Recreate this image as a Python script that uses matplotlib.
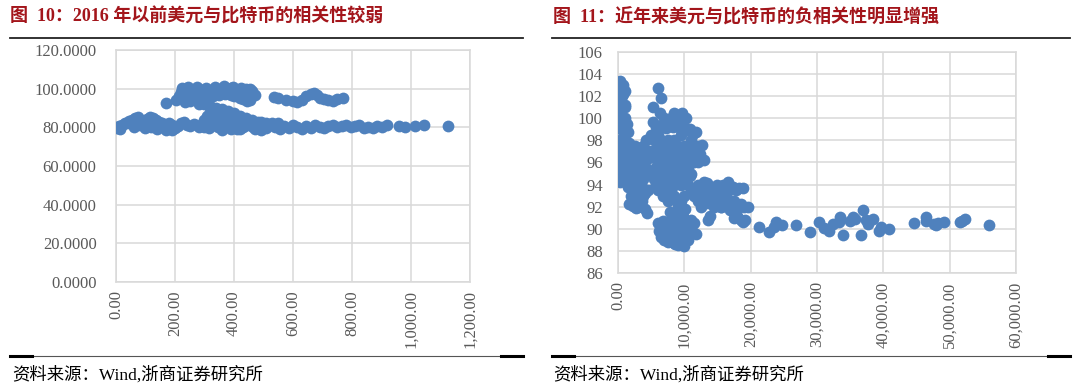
import matplotlib.pyplot as plt
from matplotlib.lines import Line2D
from matplotlib.ticker import FuncFormatter

# ---- left chart: before 2016 (BTC price vs USD index) ----
left_x = [5, 10, 15, 22, 30, 38, 45, 55, 65, 75, 85, 95, 105, 115, 125, 135, 145, 155,
          160, 170, 180, 190, 200, 210, 220, 230, 240, 250, 265, 280, 290,
          60, 80, 100, 120, 140, 170, 190, 130, 110,
          170, 205, 215, 220, 230, 240, 250, 260, 270, 280, 290, 300, 310, 320, 330, 340,
          350, 360, 370, 380, 390, 400, 410, 420, 430, 440, 450, 460, 470, 455, 445, 430,
          420, 400, 390, 235, 250, 265, 280, 295, 310, 330, 350, 370, 460, 440, 290,
          300, 320, 340, 360, 380, 400, 420, 440, 460, 480, 320, 340, 360, 380, 400, 420,
          440, 310, 300, 300, 330, 350, 370, 390, 410, 430, 450,
          300, 315, 330, 345, 360, 375, 390, 405, 420, 435, 450, 465, 480, 495, 510, 525,
          540, 555, 570, 585, 600, 615, 630, 645, 660, 675, 690, 705, 720, 735, 750, 765,
          780, 795, 810, 825, 840, 855, 870, 885, 900, 918, 960, 980, 1015, 1045, 1125,
          410, 430, 450, 470, 490, 510, 530, 550, 470, 490,
          535, 550, 575, 600, 615, 630, 645, 660, 670, 680, 690, 705, 720, 735, 750, 768,
          225, 245, 275, 305, 335, 365, 395, 425, 455, 260, 300, 340, 380, 420]
left_y = [79.5, 80.5, 79, 81, 82, 82.5, 83.5, 84, 85, 85.5, 84, 83, 84.5, 85.5, 85, 84, 83, 82,
          80, 81, 82.5, 81, 79.5, 80.5, 82, 83, 81, 80.5, 81.5, 80, 81.5,
          80, 81, 79.5, 80, 79, 78.5, 78.5, 81, 81.5,
          92.5, 94, 96, 98.5, 99.5, 98, 99, 97, 98.5, 100, 99, 98, 99.5, 97, 98.5, 100,
          99, 98, 100, 99, 100.5, 98.5, 97.5, 99, 97, 98, 96, 97.5, 96.5, 94, 93.5, 94.5,
          95, 96, 96.5, 93, 93.5, 94.5, 92, 93.5, 95, 96, 96.5, 97, 99, 100, 96,
          92, 91, 90, 89.5, 88.5, 87.5, 86, 85, 84, 83, 88, 87, 86, 85, 84, 83,
          82, 86, 84, 81, 82, 83, 81, 80, 79, 80, 81,
          80, 79.5, 81, 80, 78.5, 80.5, 79, 81, 79, 80.5, 82, 80, 81.5, 80, 79.5, 81,
          80, 79, 80.5, 79.5, 81, 80, 79, 80.5, 79.5, 81, 80, 79.5, 80.5, 81, 80, 80.5,
          81, 80, 80.5, 81, 79.5, 80, 79.5, 80.5, 80, 81, 80.5, 80, 80.5, 81, 80.5,
          83, 84, 83, 82.5, 83, 82, 82.5, 82, 79, 78.5,
          95.7, 95, 94, 93.5, 93, 94, 96, 97.5, 98, 96.5, 95, 94.5, 94, 93.5, 94.5, 95,
          100.3, 100.8, 101, 100.6, 100.9, 101.2, 100.7, 100.5, 99.8, 95.5, 96.8, 97.2, 97.8, 96.5]

# ---- right chart: recent years ----
right_x = [300, 500, 300, 600, 400, 700, 300, 600, 200, 500, 900, 300, 700, 200, 500,
           300, 800, 200, 500, 300, 1000, 1200, 1000, 900, 1300, 1100, 800, 1000, 1300,
           1800, 2200, 2600, 3000, 3400, 3800, 4200, 1800, 2200, 2600, 3000, 3400, 3800,
           4200, 1800, 2200, 2600, 3000, 3400, 3800, 2500, 3000, 3600, 4000, 4400, 2000,
           1900, 4600, 4800, 4500,
           5300, 5300, 6000, 6500, 6300, 7000, 7500, 8000, 8500, 9000, 9700, 10200, 10500,
           5000, 5500, 6000, 6500, 7000, 7500, 8000, 8500, 9000, 9500, 10000, 10500, 11000,
           11500, 12000, 12600, 5000, 5500, 6000, 6500, 7000, 7500, 8000, 8500, 9000, 9500,
           10000, 10500, 11000, 11500, 12000, 13000, 5000, 5500, 6000, 6500, 7000, 7500,
           8000, 8500, 9000, 9500, 10000, 10500, 11000, 6000, 6800, 7500, 8500, 9500,
           10000, 9000, 9300, 9000,
           6000, 6200, 6500, 7000, 7000, 7500, 7500, 8000, 8000, 8500, 8500, 9000, 9000,
           9500, 9500, 9900, 10000, 10500, 10500, 11000, 11000, 11500, 11800, 6800, 8200, 9800,
           12000, 12500, 13000, 13400, 13800, 14200, 14600, 15000, 15400, 15800, 16200, 16600,
           17000, 17400, 17800, 18200, 18800, 12000, 12500, 13000, 13500, 14000, 14500, 15000,
           15500, 16000, 16500, 17000, 17500, 18000, 18500, 19000, 19600, 13600, 13800, 17500,
           18000, 18500, 18800, 19200, 11500, 11000, 12000, 15500, 14000, 16400, 16900, 15500,
           21300, 22800, 23800, 24700, 26900, 28900, 30300, 31800, 33500, 34000, 35500, 36900,
           36700, 38400, 39400, 40800, 44700, 46400, 47900, 49100, 51600, 52300, 56000,
           23500, 31000, 32400, 33300, 35000, 35800, 37400, 37700, 39700, 46500, 47700, 48300,
           51900,
           # extra fill for the dense blob
           700, 1100, 1500, 900, 1400, 700, 1200, 1600, 2400, 2800, 3200, 3600, 4000, 4400,
           2400, 2800, 3200, 3600, 4000, 1500, 2000, 2400, 2800, 3200, 1700, 2300, 2700,
           5800, 6600, 7300, 7800, 8300, 8800, 9300, 9800, 10300, 10800, 11300, 11800,
           5800, 6600, 7300, 7800, 8300, 8800, 9300, 9800, 10300, 10800, 11300, 12300,
           5800, 6600, 7300, 7800, 8300, 8800, 9300, 9800, 10300, 10800, 5600, 7100, 8600,
           9100, 10100, 7800, 8700, 9600, 7200, 8200, 9200, 10200, 11200, 12500, 13300,
           7600, 8100, 8600, 9100, 9600, 10100, 10600, 7300, 8800, 10300]
right_y = [103.4, 103, 102.5, 102, 101.5, 101, 100.5, 100, 99.5, 99, 98.5, 98, 97.5, 97, 96.5,
           96, 95.5, 95, 94.5, 94.2, 100, 99.5, 98, 97, 96.5, 102.5, 103, 101, 99.5,
           97.5, 97, 97.5, 97, 96.5, 97.5, 98, 96, 95.5, 95, 95.5, 95, 94.5,
           95.5, 94.5, 94, 93.5, 94, 93.5, 93, 92.5, 92, 92.5, 91.8, 91.4, 93,
           95.5, 93.5, 96.5, 97,
           101, 99.7, 102.7, 101.8, 100.5, 100, 99.5, 100, 100.5, 100, 100.5, 100, 99,
           98.5, 98, 98.5, 98, 97.5, 98, 97, 98, 97.5, 98.5, 97.5, 97, 98,
           97.5, 97.5, 97.6, 97, 96.5, 96, 96.5, 95.5, 96, 95, 96.5, 96, 95.5,
           96, 95.5, 96.5, 96, 96, 96.2, 95, 94.5, 95, 94.5, 94, 94.5,
           93.5, 94, 94.5, 94, 94.5, 94, 95, 93.5, 93, 92.5, 93, 92.5,
           93, 92, 91.5, 91,
           90.5, 89.8, 89.3, 90.3, 89, 89.8, 88.8, 90.5, 89.3, 88.7, 90, 89.5, 88.5,
           90.3, 89, 88.4, 89.7, 90.5, 89.2, 90.8, 89.8, 90.5, 89.5, 90.7, 91, 91.2,
           94, 93.5, 94.2, 94.1, 93.5, 93, 93.5, 94, 93.5, 94, 93.5, 94.2,
           93.6, 93.8, 93.5, 93.7, 93.7, 92.5, 92, 92.8, 92.3, 92.5, 92, 92.7,
           92, 92.4, 92.8, 92.2, 92.5, 91.8, 92.2, 92, 92, 90.8, 91.2, 91,
           91.2, 90.8, 90.6, 90.8, 93, 93.5, 93.2, 93, 93.8, 94, 91.7, 92,
           90.15, 89.7, 90.6, 90.3, 90.3, 89.7, 90.6, 89.8, 91.1, 89.4, 91.1, 91.7,
           89.4, 90.9, 89.8, 90.0, 90.5, 91.1, 90.3, 90.6, 90.6, 90.9, 90.3,
           90.2, 90.1, 90.4, 90.6, 90.7, 90.9, 90.8, 90.4, 90.2, 90.7, 90.4, 90.5,
           90.7,
           102.2, 101.2, 98.8, 96.2, 95.2, 99.2, 97.6, 97.8, 96.5, 96.2, 96.8, 96.2, 96.6, 96.3,
           94.9, 94.6, 94.2, 93.8, 93.2, 93.8, 94.2, 93.2, 92.6, 92.9, 92.2, 92.1, 91.9,
           99.2, 99.4, 99.1, 99.3, 99.2, 99.4, 99.1, 99.3, 98.9, 99.0, 98.6, 98.8,
           97.2, 97.3, 96.9, 97.2, 97.4, 96.8, 97.0, 96.7, 96.3, 96.5, 97.0, 96.8,
           95.6, 95.8, 95.3, 95.5, 95.2, 95.7, 95.1, 95.3, 95.0, 94.8, 93.8, 93.3, 92.8,
           92.3, 91.8, 91.5, 91.3, 90.9, 90.3, 90.0, 89.7, 89.5, 89.8, 92.9, 93.0,
           89.0, 88.9, 88.6, 88.6, 88.8, 88.9, 89.0, 89.6, 89.9, 90.1]

left_title = "图  10：2016 年以前美元与比特币的相关性较弱"
right_title = "图  11：近年来美元与比特币的负相关性明显增强"
source = "资料来源：Wind,浙商证券研究所"

blue = "#4F81BD"
grid_c = "#D9D9D9"
tick_c = "#595959"
title_c = "#A3151B"
serif_cjk = ["Liberation Serif", "Noto Sans CJK SC"]

fig = plt.figure(figsize=(10.8, 3.9), dpi=100)


def style_axes(ax):
    ax.grid(True, color=grid_c, linewidth=1.1)
    ax.set_axisbelow(True)
    for sp in ax.spines.values():
        sp.set_color(grid_c)
        sp.set_linewidth(1.1)
    ax.tick_params(length=0, labelsize=12, colors=tick_c)
    for lab in ax.get_xticklabels() + ax.get_yticklabels():
        lab.set_fontfamily("Liberation Serif")
    for lab in ax.get_xticklabels():
        lab.set_rotation(90)
        lab.set_va("top")


# left scatter
ax1 = fig.add_axes([0.1074, 0.2769, 0.3278, 0.5949])
ax1.scatter(left_x, left_y, s=72, color=blue, linewidths=0, zorder=3)
ax1.set_xlim(0, 1200)
ax1.set_ylim(0, 120)
ax1.set_xticks(range(0, 1201, 200))
ax1.set_yticks(range(0, 121, 20))
ax1.xaxis.set_major_formatter(FuncFormatter(lambda v, p: f"{v:,.2f}"))
ax1.yaxis.set_major_formatter(FuncFormatter(lambda v, p: f"{v:.4f}"))
ax1.tick_params(axis="y", pad=14)
ax1.tick_params(axis="x", pad=6)
style_axes(ax1)

# right scatter
ax2 = fig.add_axes([0.5722, 0.3, 0.3685, 0.5667])
ax2.scatter(right_x, right_y, s=72, color=blue, linewidths=0, zorder=3)
ax2.set_xlim(0, 60000)
ax2.set_ylim(86, 106)
ax2.set_xticks(range(0, 60001, 10000))
ax2.set_yticks(range(86, 107, 2))
ax2.xaxis.set_major_formatter(FuncFormatter(lambda v, p: f"{v:,.2f}"))
ax2.yaxis.set_major_formatter(FuncFormatter(lambda v, p: f"{v:.0f}"))
ax2.tick_params(axis="y", pad=11)
ax2.tick_params(axis="x", pad=6)
style_axes(ax2)

# titles and source
fig.text(10 / 1080, 1 - 17 / 390, left_title, color=title_c, fontsize=13,
         fontweight="bold", family=serif_cjk, va="center", ha="left")
fig.text(553 / 1080, 1 - 17 / 390, right_title, color=title_c, fontsize=13,
         fontweight="bold", family=serif_cjk, va="center", ha="left")
fig.text(12 / 1080, 1 - 375 / 390, source, color="black", fontsize=12.5,
         family=serif_cjk, va="center", ha="left")
fig.text(553 / 1080, 1 - 375 / 390, source, color="black", fontsize=12.5,
         family=serif_cjk, va="center", ha="left")

# rules under titles and above source
W, H = 1080, 390
for x0, x1 in [(10, 523), (552, 1070)]:
    fig.add_artist(Line2D([x0 / W, x1 / W], [1 - 37.7 / H] * 2, color="#222222", lw=1.3))
    fig.add_artist(Line2D([x0 / W, x1 / W], [1 - 356 / H] * 2, color="#555555", lw=0.8))
    fig.add_artist(Line2D([x0 / W, (x0 + 22) / W], [1 - 356 / H] * 2, color="black", lw=2.2))
    fig.add_artist(Line2D([(x1 - 22) / W, x1 / W], [1 - 356 / H] * 2, color="black", lw=2.2))

fig.savefig("out.png", dpi=100)
